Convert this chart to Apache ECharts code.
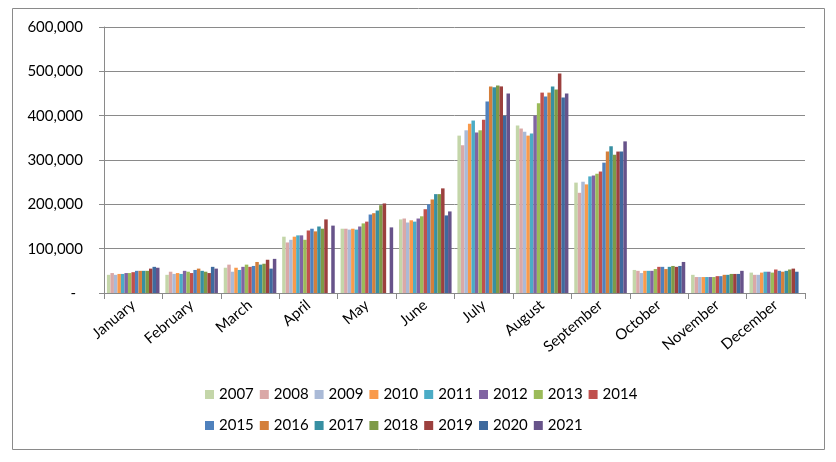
<!DOCTYPE html>
<html>
<head>
<meta charset="utf-8">
<script src="https://cdn.jsdelivr.net/npm/echarts@6/dist/echarts.min.js"></script>
<style>
html,body{margin:0;padding:0;background:#fff;}
#c{width:836px;height:462px;}
</style>
</head>
<body>
<div id="c"></div>
<script>
const months = ['January','February','March','April','May','June','July','August','September','October','November','December'];
const years = ['2007','2008','2009','2010','2011','2012','2013','2014','2015','2016','2017','2018','2019','2020','2021'];
const yTicks = [0,100000,200000,300000,400000,500000,600000];

// values per year, Jan..Dec
const v2007 = [41000,41000,57000,127000,145000,166000,355000,378000,249000,52000,41000,46000];
const v2008 = [45000,48000,64000,114000,145000,168000,333000,371000,226000,50000,36000,41000];
const v2009 = [41000,43000,48000,120000,143000,159000,367000,364000,251000,45000,36000,41000];
const v2010 = [43000,45000,57000,127000,145000,164000,382000,355000,245000,50000,36000,46000];
const v2011 = [43000,43000,52000,130000,143000,161000,389000,360000,263000,50000,36000,48000];
const v2012 = [45000,50000,59000,130000,150000,168000,362000,400000,265000,50000,36000,48000];
const v2013 = [45000,48000,64000,120000,157000,173000,367000,428000,269000,54000,36000,46000];
const v2014 = [47000,45000,59000,141000,161000,189000,391000,452000,274000,59000,38000,53000];
const v2015 = [50000,52000,61000,145000,177000,200000,432000,443000,294000,59000,38000,50000];
const v2016 = [50000,55000,70000,139000,180000,211000,466000,452000,319000,54000,41000,48000];
const v2017 = [50000,50000,64000,150000,186000,223000,464000,466000,331000,59000,41000,50000];
const v2018 = [50000,48000,66000,145000,198000,223000,468000,459000,312000,61000,43000,53000];
const v2019 = [55000,45000,75000,166000,202000,236000,466000,495000,319000,59000,43000,55000];
const v2020 = [59000,59000,55000,null,null,175000,400000,441000,319000,61000,43000,48000];
const v2021 = [57000,55000,77000,152000,148000,184000,450000,450000,342000,70000,50000,null];

const seriesValues = [v2007,v2008,v2009,v2010,v2011,v2012,v2013,v2014,v2015,v2016,v2017,v2018,v2019,v2020,v2021];
const colors = ['#C4D6A9','#DAA8A7','#AABAD7','#F99A4B','#4BACC6','#8064A2','#9BBB59','#C0504D',
                '#4F81BD','#D47F3B','#378FA2','#7E9A47','#9C403E','#3F6A9E','#67538A'];

const FONT = 'Lato';
const GRAY = '#8a8a8a';

const chart = echarts.init(document.getElementById('c'), null, {renderer:'canvas'});
const legendText = {fontFamily: FONT, fontSize: 15, color: '#000'};
const option = {
  animation: false,
  color: colors,
  grid: {left: 104, right: 31, top: 27, bottom: 169, containLabel: false},
  graphic: [{
    type: 'rect', shape: {x: 12.5, y: 8.5, width: 812, height: 441},
    style: {fill: 'none', stroke: GRAY, lineWidth: 1}, silent: true, z: -1
  }],
  legend: [
    {data: years.slice(0,8), left: 205, top: 387, itemWidth: 9, itemHeight: 9, itemGap: 6,
     icon: 'rect', textStyle: legendText, padding: 0},
    {data: years.slice(8), left: 205, top: 418, itemWidth: 9, itemHeight: 9, itemGap: 6,
     icon: 'rect', textStyle: legendText, padding: 0}
  ],
  xAxis: {
    type: 'category', data: months,
    axisLine: {lineStyle: {color: GRAY, width: 1}},
    axisTick: {show: true, length: 6, lineStyle: {color: GRAY}},
    axisLabel: {rotate: 40, margin: 10, fontFamily: FONT, fontSize: 15, color: '#000', interval: 0},
    splitLine: {show: false}
  },
  yAxis: {
    type: 'value', min: yTicks[0], max: yTicks[yTicks.length-1], interval: 100000,
    axisLine: {show: true, lineStyle: {color: GRAY, width: 1}},
    axisTick: {show: true, length: 5, lineStyle: {color: GRAY}},
    splitLine: {show: true, lineStyle: {color: GRAY, width: 1}},
    axisLabel: {
      margin: 21, fontFamily: FONT, fontSize: 15, color: '#000',
      formatter: function (v) {
        if (v === 0) return '{d|-}';
        return v.toLocaleString('en-US');
      },
      rich: {d: {fontFamily: FONT, fontSize: 15, color: '#000', padding: [0, 7, 0, 0]}}
    }
  },
  series: years.map((y, i) => ({
    name: y, type: 'bar', data: seriesValues[i],
    barGap: '0%', barCategoryGap: '10%',
    itemStyle: {color: colors[i]}
  }))
};
chart.setOption(option);
</script>
</body>
</html>
